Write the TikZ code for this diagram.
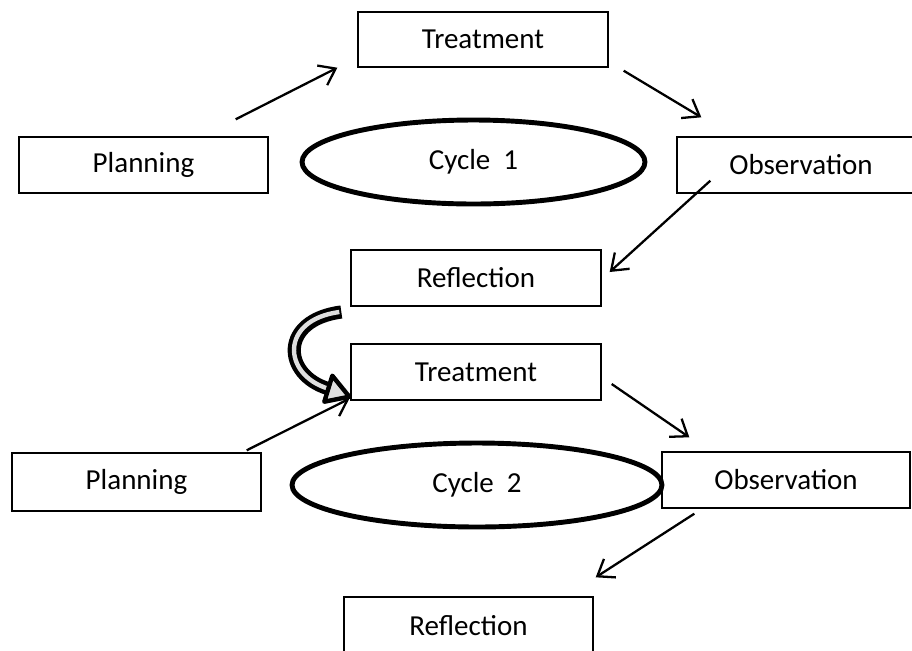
\documentclass[tikz,border=0pt]{standalone}
\usepackage{fontspec}
\setmainfont{Carlito}
\usetikzlibrary{shapes.geometric,arrows.meta,calc}

\begin{document}
\begin{tikzpicture}[
    x=0.02cm, y=-0.02cm,
    box/.style={rectangle, draw, line width=0.8pt, minimum width=5cm, minimum height=1.12cm, inner sep=0pt, font=\fontsize{16.5}{19}\selectfont},
    cyc/.style={ellipse, draw, line width=2.8pt, minimum height=1.68cm, inner sep=0pt, font=\fontsize{16.5}{19}\selectfont},
    link/.style={-{Straight Barb[length=3mm,width=4.4mm]}, line width=1.3pt}
]
    \useasboundingbox (0,0) rectangle (912,650);

    % Cycle 1
    \node[box, minimum height=1.1cm] (treat1) at (483,39.5) {Treatment};
    \node[box, minimum width=4.98cm] (plan1) at (143.5,165) {Planning};
    \node[box, minimum width=4.96cm] (obs1) at (801,165) {Observation};
    \node[box] (refl1) at (476,278) {Reflection};
    \node[cyc, minimum width=6.86cm] (cyc1) at (473.5,162) {Cycle\ \ 1};

    % Cycle 2
    \node[box] (treat2) at (476,372) {Treatment};
    \node[box, minimum width=4.98cm, minimum height=1.16cm] (plan2) at (136.5,482) {Planning};
    \node[box, minimum width=4.96cm] (obs2) at (786,480) {Observation};
    \node[box, minimum width=4.98cm, minimum height=1.16cm] (refl2) at (468.5,626) {Reflection};
    \node[cyc, minimum width=7.4cm] (cyc2) at (477,485) {Cycle\ \ 2};

    % Arrows
    \draw[link] ([shift={(-33,-17)}]plan1.north east) -- ([shift={(-20,0)}]treat1.south west);
    \draw[link] ([shift={(15,3)}]treat1.south east) -- ([shift={(25,-19)}]obs1.north west);
    \draw[link] ([shift={(34,-13)}]obs1.south west) -- ([shift={(8,-6)}]refl1.east);
    \draw[link] ([shift={(10,12)}]treat2.east) -- ([shift={(28,-14)}]obs2.north west);
    \draw[link] ([shift={(-15,-2)}]plan2.north east) -- ([shift={(-1,-2)}]treat2.south west);
    \draw[link] ([shift={(33,5)}]obs2.south west) -- ([shift={(2,-19)}]refl2.north east);

    % Curved arrow from Reflection to Treatment
    \coordinate (ctail) at ($(refl1.west)+(-9,34)$);
    \coordinate (cend) at ($(treat2.south west)+(-22,-12)$);
    \coordinate (ctip) at ($(treat2.south west)+(-1,-4)$);
    \draw[line width=7.5pt] (ctail) .. controls ($(ctail)+(-62,8)$) and ($(cend)+(-46,-14)$) .. (cend);
    \draw[line width=2.5pt, gray!25] ($(ctail)+(-2,0)$) .. controls ($(ctail)+(-62,8)$) and ($(cend)+(-46,-14)$) .. (cend);
    \filldraw[fill=gray!25, line width=2.5pt, line join=round]
        (ctip) -- ($(cend)+(4,-13)$) -- ($(cend)+(-4,13)$) -- cycle;
\end{tikzpicture}
\end{document}
